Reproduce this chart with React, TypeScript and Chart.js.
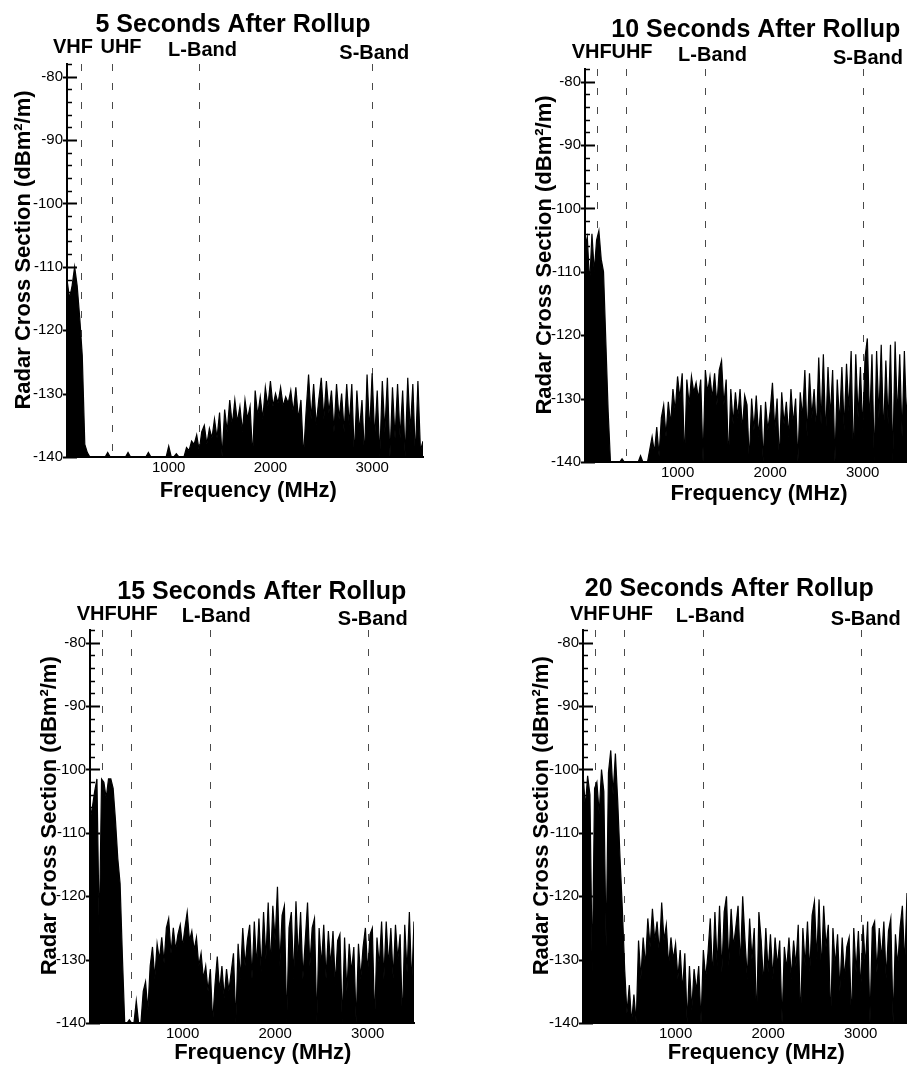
import React, { useEffect, useRef } from "react";
import { Chart, registerables } from "chart.js";

Chart.register(...registerables);
Chart.defaults.font.family = "'Liberation Sans', Arial, Helvetica, sans-serif";

// ---------- data ----------
// sampling grid of the spectra (MHz)
const FREQ_STEP = 25;
const FREQ = Array.from({ length: 141 }, (_, i) => i * FREQ_STEP);

const X_TICKS = [1000, 2000, 3000];
const Y_TICKS = [-140, -130, -120, -110, -100, -90, -80];
const Y_MIN = -140;
const Y_MAX = -78;
const X_MIN = 0;
const X_MAX = 3500;
const Y_MINOR_STEP = 2;

const BAND_FREQ = [135, 445, 1300, 3000];
const BAND_LABELS = ["VHF", "UHF", "L-Band", "S-Band"];

const TITLES = [
  "5 Seconds After Rollup",
  "10 Seconds After Rollup",
  "15 Seconds After Rollup",
  "20 Seconds After Rollup",
];
const X_TITLE = "Frequency (MHz)";
const Y_TITLE = "Radar Cross Section (dBm\u00B2/m)";

// RCS (dBm^2/m) on the FREQ grid, 5 s after rollup
const RCS_5S = [
  -112, -115, -113, -110, -113, -118, -124, -138, -139.3, -140,
  -140, -140, -140, -140, -140, -140, -139.3, -140, -140, -140,
  -140, -140, -140, -140, -139.3, -140, -140, -140, -140, -140,
  -140, -140, -139.3, -140, -140, -140, -140, -140, -140, -140,
  -138.3, -140, -140, -139.5, -140, -140, -140, -138.5, -139, -137.5,
  -138, -136.5, -139, -136, -135, -138, -135.5, -137, -134, -137,
  -133, -140, -132.5, -136, -131, -135, -131, -134.5, -132, -136,
  -131, -134, -132, -140, -129.5, -133.5, -130.5, -134, -129, -132,
  -128, -132, -130, -131.5, -129, -132, -130.5, -131.5, -129.5, -133,
  -129, -134, -131, -140, -133, -127, -134, -128.5, -135, -131,
  -127.5, -134, -128, -133, -129.5, -136, -128.5, -134, -130, -136,
  -128.5, -135, -128.5, -140, -129.5, -136, -131, -140, -127, -136,
  -126.8, -137, -129.5, -140, -128, -136, -127.5, -140, -129, -137,
  -128.5, -137, -129.5, -140, -127.5, -136, -128.5, -140, -128, -139,
  -137.5,
];

// 10 s after rollup
const RCS_10S = [
  -106, -104.5, -112, -104, -110, -105, -103.5, -108, -110, -121,
  -132, -140, -140, -140, -140, -140, -139.5, -140, -140, -140,
  -140, -140, -140, -140, -139, -140, -140, -140, -138, -136,
  -138.5, -134.5, -139, -133, -131, -136, -130.5, -134, -128.5, -132,
  -126.5, -130, -126, -140, -127, -131, -126.5, -129, -127.5, -130,
  -127, -140, -125.5, -129, -126.5, -130, -126, -131, -125.5, -124,
  -131, -127, -140, -128.5, -134, -129, -133, -128.5, -135, -129.5,
  -131, -140, -130, -135, -129.5, -136, -131, -140, -130.5, -135,
  -132, -127.5, -135, -130, -140, -129, -134, -130.5, -136, -128.5,
  -134, -130, -140, -129, -133, -125.5, -136, -126, -133, -128.5,
  -135, -123.5, -134, -123, -136, -125, -133, -125.5, -140, -127,
  -134, -125, -135, -124.5, -132, -122.5, -140, -123, -133, -125,
  -135, -123.5, -120.5, -134, -123, -140, -122.5, -133, -121.5, -136,
  -124, -134, -121.5, -140, -121, -133, -123, -136, -122.5, -134,
  -123,
];

// 15 s after rollup
const RCS_15S = [
  -108, -106, -103.5, -101.5, -126, -101.5, -102, -104.5, -101.5, -101.5,
  -103, -108, -114, -118, -129.5, -140, -140, -139.5, -140, -140,
  -136.5, -140, -140, -135, -133.5, -138, -131, -128, -133, -127.5,
  -130, -126.5, -130.5, -125, -123.5, -129, -125, -128.5, -126, -124.5,
  -128, -125, -122.5, -127, -125.5, -128.5, -126.5, -131, -129, -133,
  -131, -135, -131.5, -140, -134, -129.5, -135, -131, -136, -131.5,
  -135, -132, -129, -140, -127.5, -133, -125, -131, -127, -124.5,
  -133, -124, -131, -123.5, -132, -122.5, -130, -121, -131, -121.5,
  -127, -118.5, -131, -123, -121.5, -140, -125, -122.5, -133, -120.8,
  -130, -122.5, -133, -127, -121, -131, -125, -123.5, -140, -125,
  -131, -124.5, -133, -125.5, -131, -125.5, -134, -127, -126, -140,
  -126.5, -135, -127.5, -132, -128, -140, -127.5, -133, -128, -125,
  -132, -126, -125, -140, -126.5, -131, -124, -133, -124, -131,
  -125, -133, -124.5, -130, -126, -140, -124.5, -132, -122.5, -134,
  -124,
];

// 20 s after rollup
const RCS_20S = [
  -100.5, -106, -101, -104, -132, -103, -102, -107, -100, -103.5,
  -128, -100.5, -97, -104, -97.5, -105, -114, -122, -131.5, -138.5,
  -134, -140, -135.5, -140, -127, -133, -126.5, -131, -123.5, -128,
  -122, -127, -124, -129, -121, -127, -124.5, -131, -126.5, -130,
  -127.5, -133, -128.5, -135, -129, -140, -131, -138, -131.5, -135,
  -131, -140, -128.5, -133, -129, -123.5, -133, -122.5, -131, -121.5,
  -132, -122.5, -120, -131, -122, -128, -125, -121.5, -131, -120,
  -127, -133, -123.5, -130, -125, -140, -122.5, -127, -134, -125,
  -132, -126, -133, -126.5, -131, -127, -140, -128, -131.5, -126.5,
  -133, -127, -131, -124.5, -140, -125, -131, -124, -132, -123,
  -120.8, -130, -120.5, -132, -121.5, -128, -124.5, -140, -125, -131,
  -126, -135, -126.5, -133, -128, -126.5, -140, -125, -132, -125.5,
  -135, -124.5, -131, -124, -140, -125, -124, -132, -125, -130,
  -124, -133, -125.5, -123.5, -140, -126, -131, -125, -121.5, -131,
  -119.5,
];

const SERIES = [RCS_5S, RCS_10S, RCS_15S, RCS_20S];

// ---------- layout (page pixels) ----------
const CANVAS_W = 920;
const CANVAS_H = 1068;
const Y_AXIS_W = 60;
const X_AXIS_H = 30;

const LAYOUT = [
  {
    area: { left: 67, right: 423, top: 64, bottom: 457 },
    title: [233, 32],
    bands: [[73, 53], [121, 53], [202.5, 55.5], [374.3, 59]],
    xTitle: [248.3, 497],
    yTitle: [23.5, 250],
  },
  {
    area: { left: 585, right: 909, top: 69, bottom: 462 },
    title: [755.8, 36.7],
    bands: [[591.7, 58.3], [632, 58.3], [712.5, 60.7], [868, 64]],
    xTitle: [759, 500],
    yTitle: [544.7, 255],
  },
  {
    area: { left: 90, right: 414, top: 630, bottom: 1023 },
    title: [261.7, 599.3],
    bands: [[96.7, 620], [137.2, 620], [216.3, 621.7], [372.8, 625]],
    xTitle: [262.8, 1059],
    yTitle: [50, 815.8],
  },
  {
    area: { left: 583, right: 907, top: 630, bottom: 1023 },
    title: [729.2, 596],
    bands: [[590, 620], [632.5, 620], [710.3, 622.3], [865.8, 625]],
    xTitle: [756.3, 1059],
    yTitle: [542.3, 815.8],
  },
];

const FONT = "'Liberation Sans', Arial, Helvetica, sans-serif";

function makeDecor(idx: number) {
  const L = LAYOUT[idx];
  return {
    id: "decor" + idx,
    beforeDatasetsDraw(chart: any) {
      const { ctx, chartArea } = chart;
      const xs = chart.scales.x;
      ctx.save();
      ctx.strokeStyle = "#4a4a4a";
      ctx.lineWidth = 1;
      ctx.setLineDash([7, 12]);
      BAND_FREQ.forEach((f) => {
        const px = Math.round(xs.getPixelForValue(f)) + 0.5;
        ctx.beginPath();
        ctx.moveTo(px, chartArea.top);
        ctx.lineTo(px, chartArea.bottom);
        ctx.stroke();
      });
      ctx.restore();
    },
    afterDraw(chart: any) {
      const { ctx, chartArea } = chart;
      const ys = chart.scales.y;
      ctx.save();
      ctx.strokeStyle = "#000";
      // y ticks (major crossing the axis, minor inside)
      for (let v = Y_MIN; v <= Y_MAX + 0.001; v += Y_MINOR_STEP) {
        const py = Math.round(ys.getPixelForValue(v)) + 0.5;
        const major = Y_TICKS.includes(v);
        ctx.lineWidth = major ? 2 : 1.5;
        ctx.beginPath();
        ctx.moveTo(chartArea.left - (major ? 4 : 0), py);
        ctx.lineTo(chartArea.left + (major ? 10 : 5), py);
        ctx.stroke();
      }
      ctx.fillStyle = "#000";
      // title
      ctx.textAlign = "center";
      ctx.textBaseline = "alphabetic";
      ctx.font = `bold 25px ${FONT}`;
      ctx.fillText(TITLES[idx], L.title[0], L.title[1]);
      // band labels
      ctx.font = `bold 20px ${FONT}`;
      BAND_LABELS.forEach((t, i) => {
        ctx.fillText(t, L.bands[i][0], L.bands[i][1]);
      });
      // x axis title
      ctx.font = `bold 22px ${FONT}`;
      ctx.fillText(X_TITLE, L.xTitle[0], L.xTitle[1]);
      // y axis title
      ctx.translate(L.yTitle[0], L.yTitle[1]);
      ctx.rotate(-Math.PI / 2);
      ctx.textBaseline = "middle";
      ctx.fillText(Y_TITLE, 0, 0);
      ctx.restore();
    },
  };
}

function Panel({ idx }: { idx: number }) {
  const ref = useRef<HTMLCanvasElement | null>(null);
  useEffect(() => {
    const a = LAYOUT[idx].area;
    const values = SERIES[idx];
    const chart = new Chart(ref.current as HTMLCanvasElement, {
      type: "line",
      data: {
        datasets: [
          {
            data: FREQ.map((f, i) => ({ x: f, y: values[i] })),
            borderColor: "#000",
            backgroundColor: "#000",
            borderWidth: 1.2,
            pointRadius: 0,
            fill: "start",
            tension: 0,
          },
        ],
      },
      options: {
        responsive: false,
        animation: false,
        devicePixelRatio: 1,
        events: [],
        layout: {
          padding: {
            left: a.left - Y_AXIS_W,
            top: a.top,
            right: CANVAS_W - a.right,
            bottom: CANVAS_H - a.bottom - X_AXIS_H,
          },
        },
        plugins: {
          legend: { display: false },
          tooltip: { enabled: false },
          title: { display: false },
        },
        scales: {
          x: {
            type: "linear",
            min: X_MIN,
            max: X_MAX,
            afterBuildTicks: (ax: any) => {
              ax.ticks = X_TICKS.map((v) => ({ value: v }));
            },
            afterFit: (s: any) => {
              s.height = X_AXIS_H;
            },
            grid: { display: false, drawTicks: false },
            border: { display: true, color: "#000", width: 2 },
            ticks: {
              padding: 2,
              color: "#000",
              font: { size: 15 },
              maxRotation: 0,
              autoSkip: false,
              callback: (v: any) => String(v),
            },
          },
          y: {
            type: "linear",
            min: Y_MIN,
            max: Y_MAX,
            afterBuildTicks: (ax: any) => {
              ax.ticks = Y_TICKS.map((v) => ({ value: v }));
            },
            afterFit: (s: any) => {
              s.width = Y_AXIS_W;
            },
            grid: { display: false, drawTicks: false },
            border: { display: true, color: "#000", width: 2 },
            ticks: {
              padding: 4,
              color: "#000",
              font: { size: 15 },
              autoSkip: false,
              callback: (v: any) => String(v),
            },
          },
        },
      },
      plugins: [makeDecor(idx)],
    } as any);
    return () => chart.destroy();
  }, [idx]);
  return (
    <canvas
      ref={ref}
      width={CANVAS_W}
      height={CANVAS_H}
      style={{ position: "absolute", left: 0, top: 0, width: CANVAS_W, height: CANVAS_H }}
    />
  );
}

export default function App() {
  return (
    <div
      style={{
        position: "absolute",
        left: 0,
        top: 0,
        width: 907,
        height: 1068,
        overflow: "hidden",
        background: "#fff",
      }}
    >
      {[0, 1, 2, 3].map((i) => (
        <Panel key={i} idx={i} />
      ))}
    </div>
  );
}
